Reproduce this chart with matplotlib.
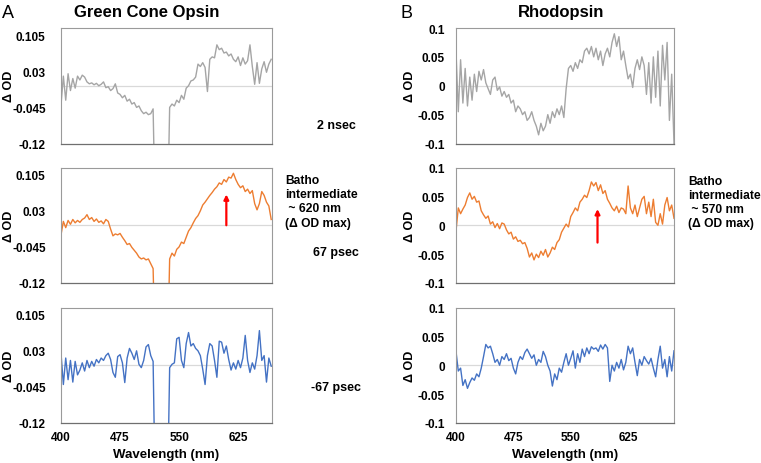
import numpy as np
import matplotlib
matplotlib.use("Agg")
import matplotlib.pyplot as plt

plt.rcParams["font.family"] = ["Liberation Sans", "DejaVu Sans"]

# wavelength grid (nm)
WL_A = np.arange(400, 668, 3)   # green cone opsin, 90 pts
WL_B = np.arange(400, 686, 3)   # rhodopsin, 96 pts
OFF = -0.3  # off-scale points around the pump wavelength

# Green cone opsin, 2 nsec (gray)
gco_2ns = [
    -0.04, 0.02, -0.03, 0.025, -0.01, 0.015, -0.005, 0.02, 0.012, 0.022,
    0.018, 0.008, 0.004, 0.006, 0.002, 0.005, 0.0, 0.003, 0.008, -0.004,
    -0.002, -0.01, -0.006, 0.004, -0.015, -0.018, -0.025, -0.02, -0.032, -0.028,
    -0.038, -0.035, -0.045, -0.042, -0.052, -0.058, -0.055, -0.06, -0.058, -0.048,
    OFF, OFF, OFF, OFF, OFF, OFF, -0.045, -0.038, -0.042, -0.03,
    -0.035, -0.02, -0.028, -0.005, 0.0, 0.01, 0.012, 0.018, 0.045, 0.04,
    0.048, 0.038, -0.012, 0.055, 0.06, 0.058, 0.085, 0.075, 0.078, 0.068,
    0.07, 0.062, 0.066, 0.055, 0.05, 0.06, 0.042, 0.058, 0.045, 0.052,
    0.085, 0.04, 0.003, 0.048, 0.005, 0.035, 0.05, 0.028, 0.045, 0.055,
]
# Green cone opsin, 67 psec (orange)
gco_67ps = [
    -0.02, 0.008, -0.005, 0.01, 0.002, 0.012, 0.005, 0.01, 0.006, 0.012,
    0.015, 0.022, 0.012, 0.016, 0.008, 0.013, 0.006, 0.009, 0.003, 0.012,
    0.008, -0.008, -0.022, -0.018, -0.02, -0.017, -0.025, -0.032, -0.04, -0.038,
    -0.046, -0.052, -0.058, -0.066, -0.07, -0.068, -0.072, -0.07, -0.08, -0.09,
    OFF, OFF, OFF, OFF, OFF, OFF, -0.07, -0.058, -0.064, -0.05,
    -0.045, -0.035, -0.038, -0.025, -0.012, -0.005, 0.005, 0.014, 0.02, 0.03,
    0.042, 0.048, 0.055, 0.062, 0.068, 0.075, 0.08, 0.088, 0.085, 0.095,
    0.09, 0.1, 0.098, 0.108, 0.095, 0.085, 0.078, 0.082, 0.07, 0.075,
    0.066, 0.072, 0.045, 0.032, 0.045, 0.07, 0.062, 0.048, 0.04, 0.012,
]
# Green cone opsin, -67 psec (blue)
gco_m67ps = [
    0.025, -0.04, 0.015, -0.03, 0.01, -0.035, 0.008, -0.02, -0.01, 0.005,
    -0.012, 0.01, -0.005, 0.008, -0.002, 0.012, 0.005, 0.015, 0.01, 0.02,
    0.025, 0.012, -0.015, -0.025, 0.018, 0.022, 0.005, -0.036, 0.015, 0.035,
    0.025, 0.012, 0.03, 0.002, -0.005, 0.01, 0.038, 0.043, 0.02, 0.008,
    OFF, OFF, OFF, OFF, OFF, OFF, -0.005, 0.002, 0.005, 0.055,
    0.058, 0.01, -0.005, 0.045, 0.068, 0.04, 0.045, 0.035, 0.03, 0.02,
    -0.008, -0.04, 0.02, 0.045, 0.04, 0.01, -0.025, 0.05, 0.048, 0.025,
    0.04, 0.012, -0.01, 0.005, -0.008, 0.01, -0.005, 0.015, 0.062, 0.01,
    -0.015, 0.005, -0.008, 0.02, 0.072, 0.01, 0.02, -0.035, 0.015, -0.002,
]
# Rhodopsin, 2 nsec (gray)
rho_2ns = [
    0.06, -0.045, 0.045, -0.03, 0.03, -0.035, 0.015, -0.025, 0.02, -0.01,
    0.025, 0.01, 0.028, 0.005, -0.005, -0.015, 0.01, 0.015, -0.008, -0.002,
    -0.018, -0.01, -0.02, -0.015, -0.03, -0.025, -0.045, -0.035, -0.04, -0.05,
    -0.045, -0.06, -0.055, -0.045, -0.06, -0.07, -0.085, -0.065, -0.078, -0.07,
    -0.05, -0.065, -0.045, -0.055, -0.04, -0.05, -0.035, -0.055, -0.005, 0.03,
    0.035, 0.025, 0.04, 0.03, 0.045, 0.04, 0.06, 0.065, 0.055, 0.068,
    0.05, 0.065, 0.045, 0.06, 0.035, 0.055, 0.065, 0.05, 0.075, 0.09,
    0.068, 0.085, 0.045, 0.06, 0.035, 0.012, 0.02, -0.003, 0.03, 0.045,
    0.028, 0.05, 0.035, -0.015, 0.04, -0.03, 0.05, -0.02, 0.06, -0.035,
    0.07, 0.01, 0.075, -0.06, 0.02, -0.1,
]
# Rhodopsin, 67 psec (orange)
rho_67ps = [
    -0.01, 0.03, 0.02, 0.028, 0.035, 0.048, 0.056, 0.045, 0.05, 0.04,
    0.042, 0.025, 0.018, 0.012, 0.016, 0.002, 0.006, -0.004, 0.003, -0.006,
    0.004, 0.002, -0.008, -0.015, -0.012, -0.024, -0.02, -0.028, -0.026, -0.032,
    -0.03, -0.04, -0.055, -0.048, -0.06, -0.05, -0.056, -0.045, -0.052, -0.042,
    -0.055, -0.048, -0.038, -0.042, -0.03, -0.025, -0.012, -0.005, 0.002, -0.003,
    0.015, 0.022, 0.03, 0.025, 0.04, 0.045, 0.052, 0.048, 0.06, 0.075,
    0.068, 0.074, 0.06, 0.07, 0.055, 0.06, 0.045, 0.038, 0.03, 0.025,
    0.033, 0.022, 0.03, 0.028, 0.02, 0.068, 0.03, 0.02, 0.035, 0.015,
    0.03, 0.045, 0.05, 0.02, 0.04, 0.015, 0.045, 0.005, 0.0, 0.02,
    0.002, 0.035, 0.048, 0.025, 0.035, 0.012,
]
# Rhodopsin, -67 psec (blue)
rho_m67ps = [
    0.024, -0.01, -0.005, -0.035, -0.025, -0.04, -0.03, -0.022, -0.026, -0.015,
    -0.02, -0.005, 0.015, 0.036, 0.03, 0.033, 0.02, 0.005, 0.01, 0.0,
    0.015, 0.01, 0.02, 0.008, 0.012, -0.005, -0.015, 0.005, 0.015, 0.01,
    0.022, 0.028, 0.02, 0.012, 0.018, 0.0, 0.01, 0.005, 0.024, 0.015,
    0.0, -0.01, -0.036, -0.015, -0.025, -0.005, -0.012, 0.005, 0.02, 0.0,
    0.012, 0.025, -0.005, 0.02, 0.005, 0.028, 0.015, 0.03, 0.02, 0.032,
    0.028, 0.03, 0.024, 0.035, 0.028, 0.036, 0.03, -0.028, 0.0, -0.01,
    0.005, -0.005, 0.01, -0.008, 0.005, 0.033, 0.02, 0.03, 0.005, -0.018,
    0.01, 0.0, 0.015, 0.008, 0.002, 0.012, -0.005, -0.02, 0.01, 0.033,
    -0.005, 0.01, -0.02, 0.015, -0.01, 0.025,
]

A_TICKS = [-0.12, -0.045, 0.03, 0.105]
A_LABELS = ["-0.12", "-0.045", "0.03", "0.105"]
B_TICKS = [-0.1, -0.05, 0, 0.05, 0.1]
B_LABELS = ["-0.1", "-0.05", "0", "0.05", "0.1"]
X_TICKS = [400, 475, 550, 625]
DELAYS = ["2 nsec", "67 psec", "-67 psec"]
PEAK_A = 610   # arrow position (nm)
PEAK_B = 585

GRAY, ORANGE, BLUE = "#a5a5a5", "#ed7d31", "#4472c4"
W, H = 761, 464


def fx(px):
    return px / W


def fy(py):
    return 1 - py / H


fig = plt.figure(figsize=(W / 100, H / 100), dpi=100)

rows_top = [29, 168.5, 308.5]
ax_h = 115.5
# left px, width px, x data, xlim, ylim, yticks, ylabels, ylabel x px, tick pad
cols = [(61, 211, WL_A, (400, 668), (-0.12, 0.12), A_TICKS, A_LABELS, 9, 11),
        (456, 218, WL_B, (400, 685), (-0.1, 0.1), B_TICKS, B_LABELS, 410, 8)]
series = [[gco_2ns, gco_67ps, gco_m67ps], [rho_2ns, rho_67ps, rho_m67ps]]
colors = [GRAY, ORANGE, BLUE]

axes = {}
for c, (left, width, wl, xl, yl, yt, ytl, ylab_px, ypad) in enumerate(cols):
    for r in range(3):
        top = rows_top[r]
        ax = fig.add_axes([fx(left), fy(top + ax_h), width / W, ax_h / H])
        ax.axhline(0, color="#d9d9d9", lw=0.9, zorder=1)
        ax.plot(wl, series[c][r], color=colors[r], lw=1.0, zorder=2)
        ax.set_xlim(*xl)
        ax.set_ylim(*yl)
        ax.set_yticks(yt)
        ax.set_yticklabels(ytl, fontsize=8.5, fontweight="bold")
        ax.tick_params(axis="y", length=0, pad=ypad)
        ax.tick_params(axis="x", length=0, pad=6)
        ax.set_xticks(X_TICKS)
        if r == 2:
            ax.set_xticklabels([str(t) for t in X_TICKS], fontsize=8.5, fontweight="bold")
            fig.text(fx(left + width / 2), fy(455), "Wavelength (nm)", fontsize=9.5,
                     fontweight="bold", ha="center", va="center")
        else:
            ax.set_xticklabels([])
        fig.text(fx(ylab_px), fy(top + ax_h / 2), "Δ OD", fontsize=9, fontweight="bold",
                 rotation=90, ha="center", va="center")
        for s in ["left", "top", "right"]:
            ax.spines[s].set_color("#9a9a9a")
            ax.spines[s].set_linewidth(0.8)
        ax.spines["bottom"].set_color("#6f6f6f")
        ax.spines["bottom"].set_linewidth(0.9)
        axes[(c, r)] = ax

# red arrows marking batho maxima
axes[(0, 1)].annotate("", xy=(PEAK_A, 0.064), xytext=(PEAK_A, 0.0),
                      arrowprops=dict(arrowstyle="-|>", color="red", lw=1.6,
                                      mutation_scale=7, shrinkA=0, shrinkB=0))
axes[(1, 1)].annotate("", xy=(PEAK_B, 0.028), xytext=(PEAK_B, -0.03),
                      arrowprops=dict(arrowstyle="-|>", color="red", lw=1.6,
                                      mutation_scale=7, shrinkA=0, shrinkB=0))

# titles and panel letters
fig.text(fx(2), fy(13), "A", fontsize=13, va="center", ha="left")
fig.text(fx(401), fy(14), "B", fontsize=13, va="center", ha="left")
fig.text(fx(147), fy(12), "Green Cone Opsin", fontsize=12, fontweight="bold",
         ha="center", va="center")
fig.text(fx(561), fy(12), "Rhodopsin", fontsize=12, fontweight="bold",
         ha="center", va="center")

# delay labels
for txt, py in zip(DELAYS, [126, 253, 388]):
    fig.text(fx(336), fy(py), txt, fontsize=9, fontweight="bold",
             ha="center", va="center")

# batho annotations
lines_a = ["Batho", "intermediate", " ~ 620 nm", "(Δ OD max)"]
lines_b = ["Batho", "intermediate", " ~ 570 nm", "(Δ OD max)"]
for i, (la, lb) in enumerate(zip(lines_a, lines_b)):
    py = 181 + i * 14.2
    fig.text(fx(285), fy(py), la, fontsize=8.7, fontweight="bold", ha="left", va="center")
    fig.text(fx(688), fy(py + 0.8), lb, fontsize=8.7, fontweight="bold", ha="left", va="center")

fig.savefig("out.png", dpi=100)
